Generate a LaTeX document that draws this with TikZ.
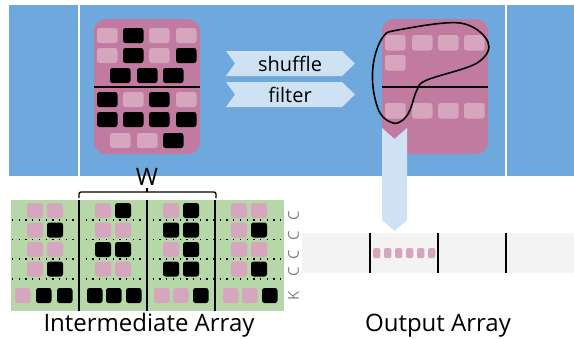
\documentclass[tikz,border=0pt]{standalone}
\usepackage{fontspec}
\setmainfont{Open Sans}
\usepackage{tikz}
\usetikzlibrary{positioning}

\definecolor{sheetblue}{HTML}{6FA8DC}
\definecolor{boxpink}{HTML}{C27BA0}
\definecolor{cellpink}{HTML}{D5A6BD}
\definecolor{arrowblue}{HTML}{CFE2F3}
\definecolor{arraygreen}{HTML}{B6D7A8}
\definecolor{outgray}{HTML}{F3F3F3}

\begin{document}
\begin{tikzpicture}[x=1pt,y=-1pt,
    cell/.style={rounded corners=2.5pt},
    bigbox/.style={fill=boxpink,rounded corners=12pt},
    chevron/.style={fill=arrowblue},
    caption/.style={font=\fontsize{24}{28}\selectfont,inner sep=0,anchor=base},
    optext/.style={font=\fontsize{20}{24}\selectfont,inner sep=0},
    keytext/.style={font=\fontsize{15}{17}\selectfont\addfontfeature{FakeBold=-0.3},text=black!50,rotate=90,inner sep=0},
    sep/.style={line width=2pt},
    dots/.style={line width=1.3pt,dash pattern=on 1.3pt off 5.4pt}]
\useasboundingbox (0,0) rectangle (574,338);

% top band
\fill[sheetblue] (9,5) rectangle (574,176);
\fill[white] (78,5) rectangle (80,176);
\fill[white] (505,5) rectangle (507,176);

% input block
\fill[bigbox] (94,19) rectangle (200,154);
\foreach \x/\y/\c in {97/28/cellpink,123/28/black,149/28/cellpink,176/28/cellpink,
                      97/48/cellpink,123/48/black,149/48/cellpink,176/48/black,
                      110/68/black,137/68/black,163/68/black,
                      97/92/black,123/92/cellpink,149/92/black,176/92/cellpink,
                      97/112/black,123/112/black,149/112/black,176/112/black,
                      110/133/cellpink,137/133/cellpink,163/133/black}
  \fill[\c,cell] (\x,\y) rectangle ++(20.5,15);
\draw[line width=1.5pt] (94,87) -- (200,87);

% output block
\fill[bigbox] (382,19) rectangle (488,154);
\foreach \x/\y in {385/35,412/35,438/35,464/35,385/55,385/103,412/103,438/103,464/103}
  \fill[cellpink,cell] (\x,\y) rectangle ++(20.5,15.5);
\draw[line width=1.5pt] (382,87) -- (488,87);
\draw[line width=1.6pt] plot[smooth cycle,tension=0.6] coordinates {(398,30) (460,23) (488,42) (477,63)
  (427,80) (417,90) (410,110) (403,120) (393,123) (380,113) (373,87) (374,60) (383,37)};

% operations
\fill[chevron] (226,51) -- (342,51) -- (355,63.5) -- (342,76) -- (226,76) -- (235,63.5) -- cycle;
\fill[chevron] (226,82) -- (342,82) -- (355,94.5) -- (342,107) -- (226,107) -- (235,94.5) -- cycle;
\node[optext] (shuffle) at (290,64) {shuffle};
\node[optext] (filter) at (290,95) {filter};
\fill[chevron] (382,128) -- (394.5,139) -- (407,128) -- (407,220) -- (394.5,231) -- (382,220) -- cycle;

% intermediate array
\fill[arraygreen] (11,200) rectangle (284,311);
\foreach \x/\y/\c in {27/203/cellpink,47/203/cellpink,27/222.5/cellpink,47/222.5/black,
                      27/242/cellpink,47/242/cellpink,27/261.5/cellpink,47/261.5/black,
                      95/203/cellpink,115/203/black,95/222.5/cellpink,115/222.5/cellpink,
                      95/242/black,115/242/black,95/261.5/cellpink,115/261.5/cellpink,
                      163/203/cellpink,183/203/black,163/222.5/black,183/222.5/black,
                      163/242/cellpink,183/242/black,163/261.5/black,183/261.5/black,
                      231/203/cellpink,251/203/cellpink,231/222.5/cellpink,251/222.5/black,
                      231/242/cellpink,251/242/cellpink,231/261.5/cellpink,251/261.5/black}
  \fill[\c,cell] (\x,\y) rectangle ++(16,15);
\foreach \x/\c in {15/cellpink,36/black,57/black,87/black,106/black,126/black,
                   154/cellpink,173/cellpink,193/black,223/cellpink,242/cellpink,262/black}
  \fill[\c,cell] (\x,288) rectangle ++(15.5,15);
\foreach \y in {220,239.5,259,279}
  \draw[dots] (12,\y) -- (284,\y);
\foreach \x in {79,147,215}
  \draw[sep] (\x,200) -- (\x,311);
\foreach \y/\t [count=\i] in {216/C,236/C,255/C,272/C,296/K}
  \node[keytext] (key\i) at (293.5,\y) {\t};

% window brace
\draw[line width=1.3pt,rounded corners=2pt] (79,198) -- (79,192) -- (216,192) -- (216,198);
\draw[line width=1.3pt] (147,192) -- (147,188);
\node[caption] (w) at (147,185) {W};

% output array
\fill[outgray] (302,233) rectangle (574,273);
\foreach \x in {370,438,506}
  \draw[sep] (\x,233) -- (\x,273);
\foreach \x in {373,384,395,406,417,428}
  \fill[cellpink,rounded corners=1.5pt] (\x,248) rectangle ++(7.3,10);

\node[caption] (inter) at (149,331) {Intermediate Array};
\node[caption] (outarr) at (438,331) {Output Array};
\end{tikzpicture}
\end{document}
